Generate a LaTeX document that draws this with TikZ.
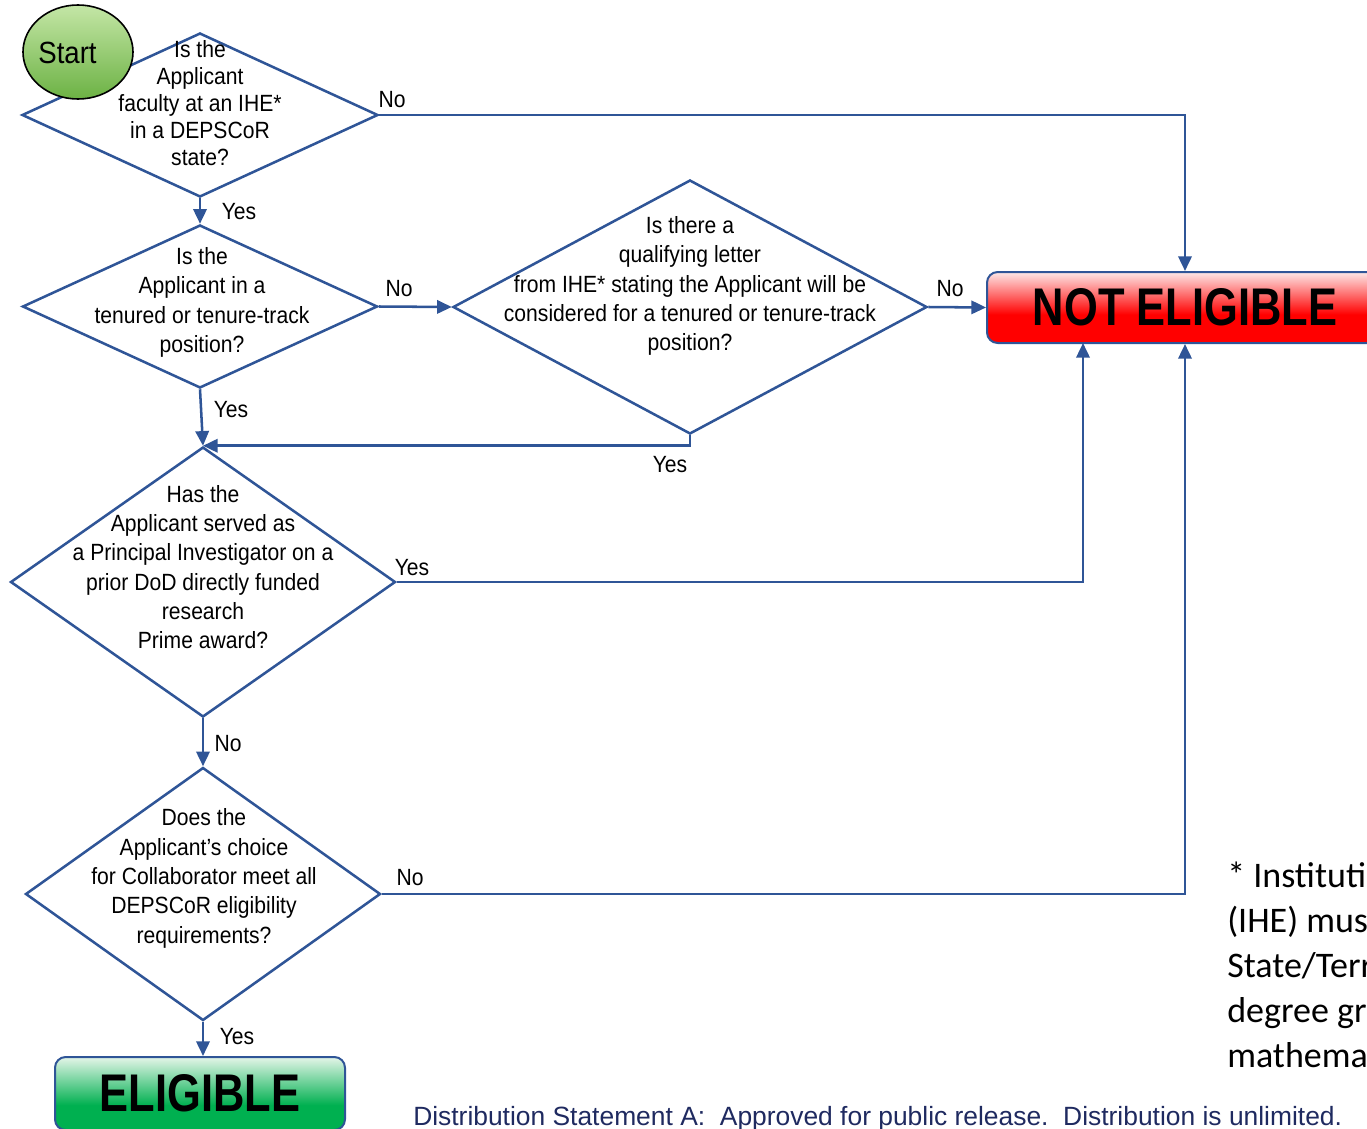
\documentclass[tikz,border=0pt]{standalone}
\usepackage{fontspec}
\setmainfont{Liberation Sans}
\newfontfamily\nar[FakeStretch=0.9]{Liberation Sans}
\newfontfamily\bnar[FakeStretch=0.82]{Liberation Sans}
\newfontfamily\calib{Carlito}
\usetikzlibrary{shapes.geometric,arrows.meta}
\definecolor{lb}{RGB}{47,85,151}
\definecolor{navy}{RGB}{31,42,96}
\definecolor{stTop}{RGB}{196,230,166}
\definecolor{stBot}{RGB}{108,178,68}
\definecolor{elTop}{RGB}{228,245,232}
\definecolor{elBot}{RGB}{0,176,80}
\definecolor{neTop}{RGB}{253,232,232}
\definecolor{neBot}{RGB}{255,0,0}
\pgfdeclareverticalshading{nesh}{100bp}{color(0bp)=(neBot); color(45bp)=(neBot); color(75bp)=(neTop); color(100bp)=(neTop)}
\pgfdeclareverticalshading{elsh}{100bp}{color(0bp)=(elBot); color(42bp)=(elBot); color(75bp)=(elTop); color(100bp)=(elTop)}
\begin{document}
\begin{tikzpicture}[x=0.75pt,y=-0.75pt,
  dia/.style={diamond,draw=lb,line width=1.9pt,inner sep=0pt},
  qtext/.style={font=\nar\fontsize{17.6}{22}\selectfont,align=center,inner sep=0pt},
  qtextA/.style={font=\nar\fontsize{17.6}{20.25}\selectfont,align=center,inner sep=0pt},
  lbl/.style={font=\nar\fontsize{17.6}{21}\selectfont,inner sep=0pt},
  flow/.style={draw=lb,line width=1.9pt,-{Triangle[length=11pt,width=10pt]}},
  endbox/.style={rectangle,rounded corners=8pt,draw=lb,line width=1.5pt,inner sep=0pt,font=\bnar\bfseries\fontsize{39.75}{40}\selectfont},
  fn/.style={font=\calib\fontsize{27}{33.75}\selectfont,inner sep=0pt,anchor=base west}
]
\path[use as bounding box] (0,0) rectangle (1367,1128);
\clip (0,0) rectangle (1367,1128);

% decision diamonds
\node[dia,minimum width=267pt,minimum height=123pt] (D1) at (200,115) {};
\node[dia,minimum width=266.25pt,minimum height=122.25pt] (D2) at (200,306.5) {};
\node[dia,minimum width=355.5pt,minimum height=190.5pt] (D3) at (690,307) {};
\node[dia,minimum width=288.75pt,minimum height=202.5pt] (D4) at (203,582) {};
\node[dia,minimum width=266.25pt,minimum height=189.75pt] (D5) at (203,894) {};

% start
\node[ellipse,draw=black,line width=1.2pt,top color=stTop,bottom color=stBot,minimum width=82.5pt,minimum height=70.5pt,inner sep=0pt] (start) at (78,52) {};
\node[inner sep=0pt,font=\nar\fontsize{23}{24}\selectfont] (starttxt) at (67.5,52.5) {Start};

% question texts
\node[qtextA] (T1) at (200,103) {Is the\\Applicant\\faculty at an IHE*\\in a DEPSCoR\\state?};
\node[qtext] (T2) at (202,302.5) {Is the\\Applicant in a\\tenured or tenure-track\\position?};
\node[qtext] (T3) at (690,286) {Is there a\\qualifying letter\\from IHE* stating the Applicant will be\\considered for a tenured or tenure-track\\position?};
\node[qtext] (T4) at (203,567) {Has the\\Applicant served as\\a Principal Investigator on a\\prior DoD directly funded\\research\\Prime award?};
\node[qtext] (T5) at (204,878.5) {Does the\\Applicant’s choice\\for Collaborator meet all\\DEPSCoR eligibility\\requirements?};

% end boxes
\node[endbox,shading=nesh,minimum width=297pt,minimum height=53.25pt] (NE) at (1185,307.5) {\raisebox{-2.5pt}{NOT ELIGIBLE}};
\node[endbox,shading=elsh,minimum width=217.5pt,minimum height=54.75pt] (EL) at (200,1093.5) {ELIGIBLE};

\coordinate (neS1) at (1083,343);

% connectors
\draw[flow] (D1.south) -- (D2.north);
\draw[flow] (D1.east) -| (NE.north);
\draw[flow] (D2.east) -- (D3.west);
\draw[flow] (D3.east) -- (NE.west);
\draw[flow] (D2.south) -- (D4.north);
\draw[flow] (D3.south) |- (D4.north);
\draw[flow] (D4.east) -| (neS1);
\draw[flow] (D4.south) -- (D5.north);
\draw[flow] (D5.east) -| (NE.south);
\draw[flow] (D5.south) -- (D5.south |- EL.north);

% connector labels
\node[lbl] (L1) at (392,100) {No};
\node[lbl] (L2) at (239,212) {Yes};
\node[lbl] (L3) at (399,289) {No};
\node[lbl] (L4) at (950,289) {No};
\node[lbl] (L5) at (231,410) {Yes};
\node[lbl] (L6) at (670,465) {Yes};
\node[lbl] (L7) at (412,568) {Yes};
\node[lbl] (L8) at (228,744) {No};
\node[lbl] (L9) at (410,878) {No};
\node[lbl] (L10) at (237,1037) {Yes};

% footnote
\node[fn] (fn1) at (1227,887) {* Instituti};
\node[fn] (fn2) at (1227,932) {(IHE) mus};
\node[fn] (fn3) at (1227,977) {State/Terr};
\node[fn] (fn4) at (1227,1022) {degree gr};
\node[fn] (fn5) at (1227,1067) {mathema};

% distribution statement
\node[anchor=base west,inner sep=0pt,text=navy,font=\fontsize{19.8}{20}\selectfont] (dist) at (413,1125) {Distribution Statement A:\ \ Approved for public release.\ \ Distribution is unlimited.};
\end{tikzpicture}
\end{document}
